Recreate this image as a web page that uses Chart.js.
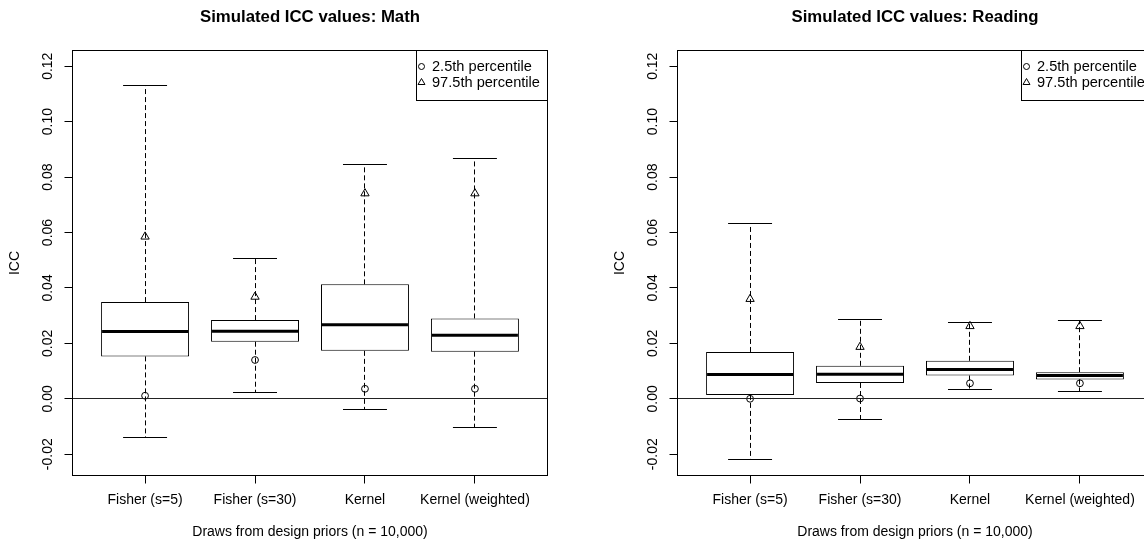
<!DOCTYPE html>
<html><head><meta charset="utf-8">
<script src="https://cdn.jsdelivr.net/npm/chart.js@4.4.1/dist/chart.umd.min.js"></script>
<style>
html,body{margin:0;padding:0;width:1144px;height:544px;overflow:hidden;background:#fff;}
.panel{position:absolute;top:0;width:572px;height:544px;}
#p1{left:0}#p2{left:605px}
</style></head><body>
<div class="panel" id="p1"><canvas id="c1" width="572" height="544"></canvas></div>
<div class="panel" id="p2"><canvas id="c2" width="572" height="544"></canvas></div>
<script>
const categories = ['Fisher (s=5)', 'Fisher (s=30)', 'Kernel', 'Kernel (weighted)'];
const categoryPositions = [1, 2, 3, 4];
const yTicks = [-0.02, 0.00, 0.02, 0.04, 0.06, 0.08, 0.10, 0.12];
const legendLabels = ['2.5th percentile', '97.5th percentile'];
const panelTitles = ['Simulated ICC values: Math', 'Simulated ICC values: Reading'];
const xTitle = 'Draws from design priors (n = 10,000)';
const yTitle = 'ICC';

// Math
const mathMin    = [-0.0141, 0.0024, -0.0037, -0.0104];
const mathQ1     = [ 0.0153, 0.0206,  0.0173,  0.0170];
const mathMedian = [ 0.0243, 0.0244,  0.0267,  0.0229];
const mathQ3     = [ 0.0349, 0.0284,  0.0413,  0.0290];
const mathMax    = [ 0.1131, 0.0505,  0.0846,  0.0866];
const mathP025   = [ 0.0011, 0.0140,  0.0036,  0.0036];
const mathP975   = [ 0.0585, 0.0368,  0.0741,  0.0741];

// Reading
const readMin    = [-0.0220, -0.0074, 0.0034, 0.0028];
const readQ1     = [ 0.0014,  0.0057, 0.0084, 0.0070];
const readMedian = [ 0.0088,  0.0089, 0.0106, 0.0084];
const readQ3     = [ 0.0169,  0.0119, 0.0137, 0.0096];
const readMax    = [ 0.0631,  0.0285, 0.0277, 0.0282];
const readP025   = [ 0.0000,  0.0001, 0.0056, 0.0056];
const readP975   = [ 0.0360,  0.0187, 0.0262, 0.0262];

const yMin = -0.02768, yMax = 0.12568;
const xMin = 0.34, xMax = 4.66;

const FONT = "'Liberation Sans', Arial, Helvetica, sans-serif";
const BASE = 14;
const LEGEND_SIZE = 14.6;

function crisp(v) { return Math.round(v - 0.5) + 0.5; }

function makeChart(canvasId, title, mins, q1, med, q3, maxs, p025, p975) {
  const boxPlugin = {
    id: 'boxExtras_' + canvasId,
    afterDatasetsDraw(chart) {
      const ctx = chart.ctx, xs = chart.scales.x, ys = chart.scales.y, a = chart.chartArea;
      ctx.save();
      // zero line
      ctx.strokeStyle = '#222'; ctx.lineWidth = 1; ctx.setLineDash([]);
      const y0 = crisp(ys.getPixelForValue(0));
      ctx.beginPath(); ctx.moveTo(a.left, y0); ctx.lineTo(a.right, y0); ctx.stroke();
      for (let i = 0; i < categoryPositions.length; i++) {
        const c = categoryPositions[i];
        const xc = crisp(xs.getPixelForValue(c));
        const xl = xs.getPixelForValue(c - 0.2), xr = xs.getPixelForValue(c + 0.2);
        const bl = xs.getPixelForValue(c - 0.4), br = xs.getPixelForValue(c + 0.4);
        const yMaxP = crisp(ys.getPixelForValue(maxs[i])), yMinP = crisp(ys.getPixelForValue(mins[i]));
        // whiskers
        ctx.strokeStyle = '#000'; ctx.lineWidth = 1; ctx.setLineDash([5, 3]);
        ctx.beginPath();
        ctx.moveTo(xc, ys.getPixelForValue(q3[i])); ctx.lineTo(xc, yMaxP);
        ctx.moveTo(xc, ys.getPixelForValue(q1[i])); ctx.lineTo(xc, yMinP);
        ctx.stroke();
        ctx.setLineDash([]);
        // caps
        ctx.beginPath();
        ctx.moveTo(xl, yMaxP); ctx.lineTo(xr, yMaxP);
        ctx.moveTo(xl, yMinP); ctx.lineTo(xr, yMinP);
        ctx.stroke();
        // median
        ctx.lineWidth = 3;
        ctx.beginPath();
        ctx.moveTo(bl + 1, ys.getPixelForValue(med[i])); ctx.lineTo(br - 1, ys.getPixelForValue(med[i]));
        ctx.stroke();
      }
      ctx.restore();
    },
    afterDraw(chart) {
      const ctx = chart.ctx, ys = chart.scales.y, a = chart.chartArea;
      ctx.save();
      // frame
      ctx.strokeStyle = '#000'; ctx.lineWidth = 1;
      ctx.strokeRect(a.left, a.top, a.right - a.left, a.bottom - a.top);
      // y tick labels (rotated, R style)
      ctx.fillStyle = '#000';
      ctx.font = BASE + 'px ' + FONT;
      ctx.textAlign = 'center'; ctx.textBaseline = 'middle';
      ys.ticks.forEach(t => {
        const py = ys.getPixelForValue(t.value);
        ctx.save(); ctx.translate(48, py); ctx.rotate(-Math.PI / 2);
        ctx.fillText(t.value.toFixed(2), 0, 0);
        ctx.restore();
      });
      // main title
      ctx.font = 'bold ' + (BASE * 1.2) + 'px ' + FONT;
      ctx.fillText(title, (a.left + a.right) / 2, 17);
      // legend
      ctx.font = LEGEND_SIZE + 'px ' + FONT;
      const tw = Math.max(...legendLabels.map(s => ctx.measureText(s).width));
      const lw = Math.round(15.5 + tw + 7.5), lh = 50;
      const lx = a.right - lw, ly = a.top;
      ctx.fillStyle = '#fff'; ctx.fillRect(lx, ly, lw, lh);
      ctx.strokeStyle = '#000'; ctx.strokeRect(lx, ly, lw, lh);
      ctx.fillStyle = '#000'; ctx.textAlign = 'left';
      const styles = ['circle', 'triangle'], radii = [3.0, 4.0];
      legendLabels.forEach((s, k) => {
        const yy = ly + 16 + k * 16;
        ctx.save();
        ctx.fillStyle = 'rgba(0,0,0,0)'; ctx.strokeStyle = '#000'; ctx.lineWidth = 1;
        Chart.helpers.drawPoint(ctx, {pointStyle: styles[k], radius: radii[k], rotation: 0, borderWidth: 1}, lx + 5, yy);
        ctx.restore();
        ctx.fillText(s, lx + 15.5, yy);
      });
      ctx.restore();
    }
  };

  const boxData = categoryPositions.map((c, i) => ({x: c, y: [q1[i], q3[i]]}));
  const lowData = categoryPositions.map((c, i) => ({x: c, y: p025[i]}));
  const highData = categoryPositions.map((c, i) => ({x: c, y: p975[i]}));

  return new Chart(document.getElementById(canvasId), {
    type: 'bar',
    data: {
      datasets: [
        {type: 'bar', data: boxData, backgroundColor: '#fff', borderColor: '#000', borderWidth: 1,
         borderSkipped: false, categoryPercentage: 1.0, barPercentage: 0.8, order: 3},
        {type: 'scatter', label: legendLabels[0], data: lowData, pointStyle: 'circle', pointRadius: 3.4,
         borderColor: '#000', backgroundColor: 'rgba(0,0,0,0)', borderWidth: 1, order: 1},
        {type: 'scatter', label: legendLabels[1], data: highData, pointStyle: 'triangle', pointRadius: 4.8,
         borderColor: '#000', backgroundColor: 'rgba(0,0,0,0)', borderWidth: 1, order: 2}
      ]
    },
    options: {
      responsive: false, animation: false, devicePixelRatio: 1, events: [],
      layout: {padding: {top: 50.5, right: 24.5, bottom: 0, left: 0}},
      plugins: {legend: {display: false}, title: {display: false}, tooltip: {enabled: false}},
      scales: {
        x: {
          type: 'linear', min: xMin, max: xMax, offset: false,
          afterBuildTicks: s => { s.ticks = categoryPositions.map(v => ({value: v})); },
          afterFit: s => { s.height = 68.5; },
          grid: {offset: false, drawOnChartArea: false, drawTicks: true, tickLength: 8, color: '#000', lineWidth: 1},
          border: {display: false},
          ticks: {color: '#000', font: {family: FONT, size: BASE}, padding: 8, maxRotation: 0, minRotation: 0,
                  autoSkip: false, callback: v => categories[categoryPositions.indexOf(v)]},
          title: {display: true, text: xTitle, color: '#000', font: {family: FONT, size: BASE}, padding: {top: 3.6, bottom: 3.6}}
        },
        y: {
          type: 'linear', min: yMin, max: yMax,
          afterBuildTicks: s => { s.ticks = yTicks.map(v => ({value: v})); },
          afterFit: s => { s.width = 72.5; },
          grid: {drawOnChartArea: false, drawTicks: true, tickLength: 8, color: '#000', lineWidth: 1},
          border: {display: false},
          ticks: {display: false},
          title: {display: true, text: yTitle, color: '#000', font: {family: FONT, size: BASE}, padding: {top: 6.6, bottom: 6.6}}
        }
      }
    },
    plugins: [boxPlugin]
  });
}

makeChart('c1', panelTitles[0], mathMin, mathQ1, mathMedian, mathQ3, mathMax, mathP025, mathP975);
makeChart('c2', panelTitles[1], readMin, readQ1, readMedian, readQ3, readMax, readP025, readP975);
</script>
</body></html>
